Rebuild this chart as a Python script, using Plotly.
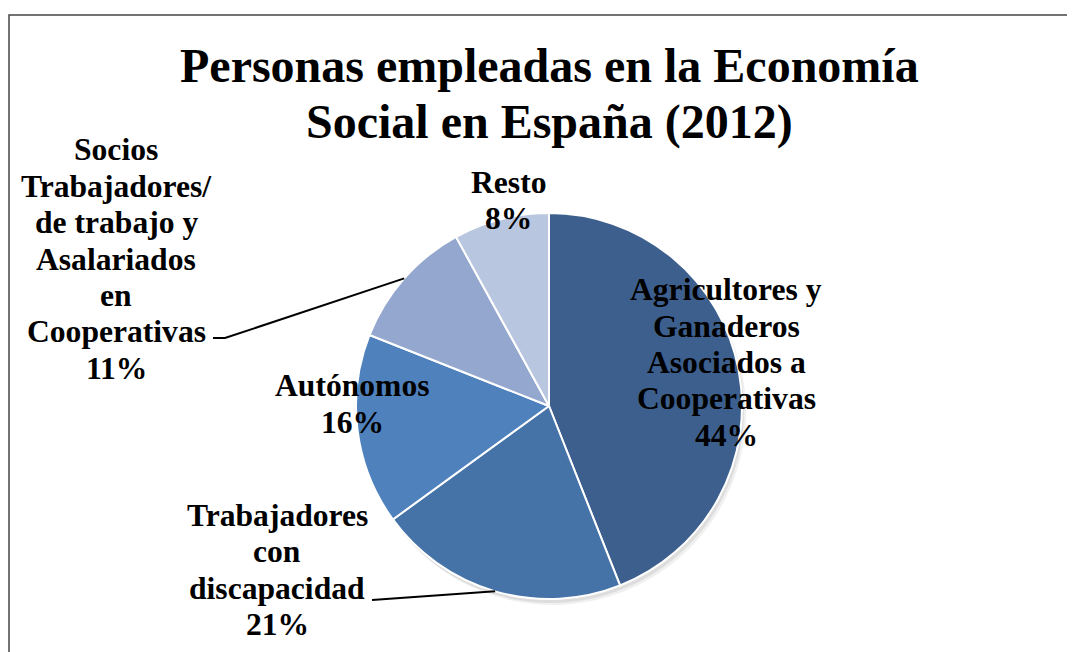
import math
import plotly.graph_objects as go

# ---- data ----
categories = [
    "Agricultores y Ganaderos Asociados a Cooperativas",
    "Trabajadores con discapacidad",
    "Autónomos",
    "Socios Trabajadores/ de trabajo y Asalariados en Cooperativas",
    "Resto",
]
values = [44, 21, 16, 11, 8]
label_lines = [
    ["Agricultores y", "Ganaderos", "Asociados a", "Cooperativas"],
    ["Trabajadores", "con", "discapacidad"],
    ["Autónomos"],
    ["Socios", "Trabajadores/", "de trabajo y", "Asalariados", "en", "Cooperativas"],
    ["Resto"],
]
colors = ["#3C5F8E", "#4573A7", "#4F81BD", "#94A8CF", "#B9C6E0"]
title_lines = ["Personas empleadas en la Economía", "Social en España (2012)"]

# ---- layout geometry (window pixels) ----
W, H = 1075, 652
OFF = 8  # page body margin
cx, cy, R = 549, 406, 193
label_pos = [(726, 362.5), (277, 570), (352, 404), (116, 259), (508, 200.5)]
leader_anchor = {3: [(213, 338), (225, 338)], 1: [(372, 600)]}
FONT = "Liberation Serif, Times New Roman, serif"
LABEL_SIZE = 31.6
LINE_SP = 36.4
TITLE_SIZE = 48
TITLE_Y = [65, 122]

def px(x):
    return (x - OFF) / W

def py(y):
    return 1 - (y - OFF) / H

fig = go.Figure()
fig.add_trace(go.Pie(
    labels=categories,
    values=values,
    sort=False,
    direction="clockwise",
    rotation=0,
    marker=dict(colors=colors, line=dict(color="white", width=2)),
    textinfo="none",
    hoverinfo="label+percent",
    domain=dict(x=[px(cx - R), px(cx + R)], y=[py(cy + R), py(cy - R)]),
    showlegend=False,
))

total = sum(values)
shapes = []
for off, col in [(6, "rgba(0,0,0,0.06)"), (4, "rgba(0,0,0,0.08)")]:
    shapes.append(dict(type="circle", xref="paper", yref="paper", layer="below",
                       x0=px(cx - R + off - 2), x1=px(cx + R + off - 2),
                       y0=py(cy + R + off), y1=py(cy - R + off),
                       line=dict(width=0), fillcolor=col))

annotations = []
cum = 0
for i, (cat, v) in enumerate(zip(categories, values)):
    pct = round(100 * v / total)
    lines = label_lines[i] + ["%d%%" % pct]
    lx, ly = label_pos[i]
    n = len(lines)
    for k, line in enumerate(lines):
        yk = ly + (k - (n - 1) / 2) * LINE_SP
        annotations.append(dict(x=px(lx), y=py(yk), xref="paper", yref="paper",
                                text="<b>%s</b>" % line, showarrow=False,
                                xanchor="center", yanchor="middle",
                                font=dict(family=FONT, size=LABEL_SIZE, color="black")))
    mid = (cum + v / 2) / total * 2 * math.pi
    cum += v
    if i in leader_anchor:
        ex = cx + R * math.sin(mid)
        ey = cy - R * math.cos(mid)
        pts = leader_anchor[i] + [(ex, ey)]
        path = "M " + " L ".join("%f,%f" % (px(x), py(y)) for x, y in pts)
        shapes.append(dict(type="path", xref="paper", yref="paper", path=path,
                           line=dict(color="black", width=2)))

shapes.append(dict(type="rect", xref="paper", yref="paper",
                   x0=px(9), x1=px(W + 40), y0=py(H + 40), y1=py(15),
                   line=dict(color="#444444", width=1.5)))

for t, ty in zip(title_lines, TITLE_Y):
    annotations.append(dict(x=px(549), y=py(ty), xref="paper", yref="paper",
                            text="<b>%s</b>" % t, showarrow=False,
                            xanchor="center", yanchor="middle",
                            font=dict(family=FONT, size=TITLE_SIZE, color="black")))

fig.update_layout(
    width=W, height=H,
    margin=dict(l=0, r=0, t=0, b=0),
    paper_bgcolor="white", plot_bgcolor="white",
    shapes=shapes, annotations=annotations,
)
fig.write_html("out.html")
